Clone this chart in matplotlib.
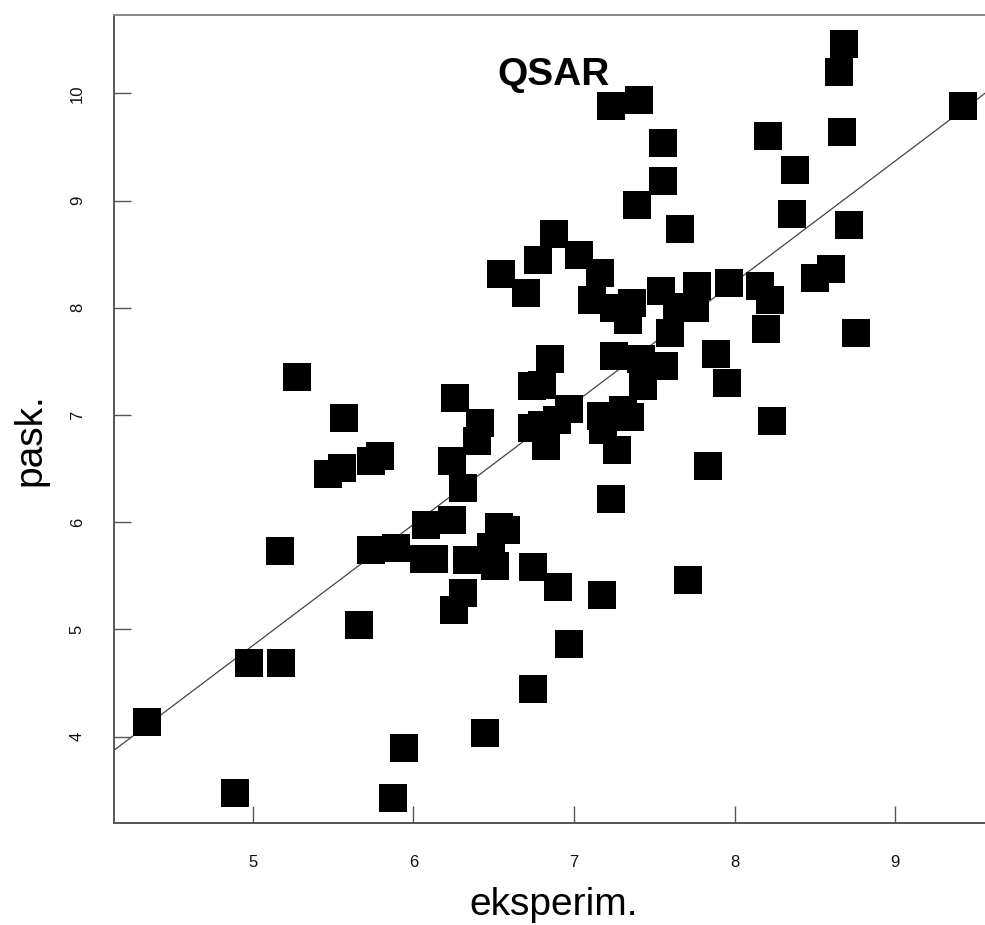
import matplotlib
matplotlib.use("Agg")
import matplotlib.pyplot as plt

eksperim = [4.340, 4.888, 4.975, 5.175, 5.173, 5.274, 5.570, 5.467, 5.554, 5.735,
            5.791, 5.662, 5.735, 5.891, 6.066, 6.129, 6.079, 6.241, 6.243, 6.308,
            6.252, 6.307, 5.942, 5.872, 6.446, 6.331, 6.482, 6.532, 6.577, 6.511,
            6.747, 6.899, 7.176, 6.968, 6.743, 7.232, 7.707, 6.262, 6.413, 6.394,
            6.877, 6.773, 6.544, 6.703, 7.029, 7.164, 7.112, 7.359, 7.249, 7.336,
            7.543, 7.599, 7.248, 7.560, 7.431, 7.416, 6.852, 6.739, 6.799, 6.970,
            6.737, 6.897, 6.824, 6.801, 7.167, 7.181, 7.302, 7.349, 7.268, 7.232,
            7.403, 7.554, 7.554, 7.392, 7.662, 7.641, 7.753, 7.766, 7.966, 8.160,
            8.218, 8.197, 7.886, 7.952, 8.234, 7.832, 8.498, 8.601, 8.757, 8.683,
            8.650, 9.421, 8.208, 8.670, 8.376, 8.359, 8.714]
pask = [4.138, 3.479, 4.686, 4.686, 5.728, 7.358, 6.968, 6.447, 6.509, 6.573,
        6.618, 5.040, 5.737, 5.756, 5.656, 5.656, 5.976, 6.022, 6.573, 6.318,
        5.185, 5.336, 3.899, 3.424, 4.033, 5.647, 5.770, 5.951, 5.926, 5.588,
        5.578, 5.395, 5.317, 4.861, 4.445, 6.218, 5.460, 7.162, 6.924, 6.758,
        8.687, 8.442, 8.312, 8.142, 8.492, 8.328, 8.075, 8.044, 7.999, 7.882,
        8.154, 7.769, 7.551, 7.459, 7.271, 7.519, 7.523, 7.271, 7.279, 7.058,
        6.882, 6.952, 6.712, 6.906, 6.990, 6.859, 7.043, 6.979, 6.670, 9.883,
        9.936, 9.536, 9.184, 8.961, 8.732, 8.007, 7.993, 8.200, 8.230, 8.201,
        8.075, 7.801, 7.566, 7.298, 6.941, 6.525, 8.274, 8.363, 7.764, 10.460,
        10.201, 9.879, 9.604, 9.636, 9.282, 8.877, 8.773]

# regression line (intercept, slope)
fit_intercept = -0.801
fit_slope = 1.130

x_ticks = [5, 6, 7, 8, 9]
y_ticks = [4, 5, 6, 7, 8, 9, 10]

plt.rcParams['font.family'] = ['Liberation Sans', 'DejaVu Sans']

W, H = 985, 925
fig = plt.figure(figsize=(W / 100, H / 100), dpi=100)
fig.patch.set_facecolor('white')

left_px, right_px, top_px, bottom_px = 114, 990, 15, 823
ax = fig.add_axes([left_px / W, 1 - bottom_px / H,
                   (right_px - left_px) / W, (bottom_px - top_px) / H])

ax.plot(eksperim, pask, ls='none', marker='s', ms=19.6, mew=0,
        color='black', zorder=3)
ax.axline((0, fit_intercept), slope=fit_slope, color='#444444', lw=0.9, zorder=2)

ax.set_xlim(4.1366, 9.5895)
ax.set_ylim(3.195, 10.730)
ax.set_xticks(x_ticks)
ax.set_yticks(y_ticks)
ax.set_xticklabels([str(t) for t in x_ticks])
ax.set_yticklabels([str(t) for t in y_ticks], rotation=90, va='center')

ax.tick_params(axis='both', direction='in', length=12, width=1.0,
               color='#555555', labelsize=12, labelcolor='#111111')
ax.tick_params(axis='x', pad=23)
ax.tick_params(axis='y', pad=21)

for side in ['left', 'bottom']:
    ax.spines[side].set_color('#555555')
    ax.spines[side].set_linewidth(1.4)
ax.spines['top'].set_color('#888888')
ax.spines['top'].set_linewidth(1.4)
ax.spines['right'].set_color('#888888')

fig.text(554 / W, 1 - 905 / H, 'eksperim.', fontsize=28,
         ha='center', va='center')
fig.text(30 / W, 1 - 440 / H, 'pask.', fontsize=28, rotation=90,
         ha='center', va='center')
fig.text(554 / W, 1 - 75 / H, 'QSAR', fontsize=28, fontweight='bold',
         ha='center', va='center')

fig.savefig('out.png', dpi=100, facecolor='white')
